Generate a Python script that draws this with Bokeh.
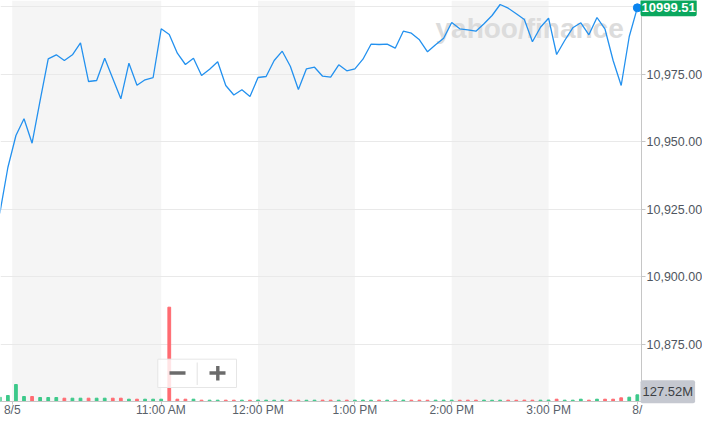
from bokeh.plotting import figure
from bokeh.models import (Range1d, FixedTicker, NumeralTickFormatter, BoxAnnotation,
                          Label, ColumnDataSource)
from bokeh.embed import file_html
from bokeh.resources import INLINE

# ---- data (5-minute intraday points) ----
price = [
    10923.45, 10940.46, 10952.29, 10958.47, 10949.45, 10965.24, 10980.66, 10982.14, 10980.03, 10982.14,
    10986.58, 10972.26, 10972.63, 10980.88, 10973.37, 10965.87, 10979.03, 10970.90, 10972.89, 10973.74,
    10991.75, 10989.64, 10982.73, 10978.55, 10980.88, 10974.48, 10976.81, 10979.55, 10970.78, 10967.27,
    10969.19, 10966.72, 10973.74, 10974.11, 10980.03, 10983.47, 10977.92, 10969.30, 10976.96, 10977.55,
    10974.22, 10973.85, 10978.44, 10976.22, 10976.96, 10980.51, 10986.06, 10985.95, 10986.06, 10984.58,
    10990.87, 10990.13, 10987.68, 10983.25, 10985.84, 10988.28, 10994.08, 10991.75, 10991.38, 10990.87,
    10993.60, 10996.67, 11000.74, 10999.37, 10997.30, 10995.19, 10986.95, 10992.34, 10995.67, 10982.25,
    10987.43, 10992.12, 10993.97, 10989.53, 10995.93, 10991.60, 10980.03, 10970.78, 10988.91, 10999.51,
]
volume_m = [
    82, 114, 323, 95, 95, 76, 76, 76, 63, 63,
    63, 63, 63, 63, 63, 63, 44, 44, 44, 44,
    44, 1795, 44, 44, 44, 25, 25, 25, 25, 25,
    25, 24, 26, 25, 24, 25, 27, 25, 24, 25,
    26, 25, 24, 25, 25, 26, 24, 25, 25, 24,
    26, 25, 25, 24, 25, 26, 25, 24, 25, 25,
    26, 24, 25, 25, 24, 26, 25, 25, 27, 44,
    25, 25, 44, 25, 44, 44, 44, 70, 82, 127.52,
]
x_tick_pos = [1.54, 20, 32, 44, 56, 68, 79]
x_tick_labels = ["8/5", "11:00 AM", "12:00 PM", "1:00 PM", "2:00 PM", "3:00 PM", "8/"]
grid_ticks = [10875, 10900, 10925, 10950, 10975, 11000]
y_label_ticks = [10875, 10900, 10925, 10950, 10975]
shade_start = [1.54, 32, 56]
shade_end = [20, 44, 68]
last_price_text = "10999.51"
last_volume_text = "127.52M"

W, H = 702, 416

# ---- helpers for decoration placement (reference pixel -> data) ----
def kx(px):
    return (px + 0.7) / 8.07

def py(px):
    return 11000 - (px - 6) * 25 / 67.6

VOL_PER_PX = 19.03e6

idx = list(range(len(price)))
colors = ["#3dc98a"]
for i in range(1, len(price)):
    colors.append("#3dc98a" if price[i] >= price[i - 1] else "#ff6b72")

src = ColumnDataSource(dict(x=idx, p=price, v=[m * 1e6 for m in volume_m], c=colors))

p = figure(width=W, height=H,
           x_range=Range1d(kx(0), kx(W)), y_range=Range1d(py(H), py(0)),
           y_axis_location="right", output_backend="svg", toolbar_location=None,
           min_border_left=0, min_border_top=0, min_border_right=0, min_border_bottom=0,
           outline_line_color=None, background_fill_color="white", border_fill_color="white")
p.extra_y_ranges = {"vol": Range1d(-(H - 401) * VOL_PER_PX, 401 * VOL_PER_PX)}

for s, e in zip(shade_start, shade_end):
    p.add_layout(BoxAnnotation(left=s, right=e, top=py(0), bottom=py(401),
                               fill_color="#f5f5f5", fill_alpha=1,
                               line_color=None, level="image"))

p.xgrid.visible = False
yg = p.ygrid[0]
if "cross_bounds" in yg.properties():
    yg.ticker = FixedTicker(ticks=grid_ticks)
    yg.cross_bounds = (kx(0), kx(641))
    yg.grid_line_color = "#e9e9e9"
else:
    yg.visible = False
    p.segment(x0=[kx(0)] * len(grid_ticks), x1=[kx(641)] * len(grid_ticks),
              y0=grid_ticks, y1=grid_ticks, line_color="#e9e9e9", line_width=1)

# watermark
p.add_layout(Label(x=kx(435), y=py(28.3), text="yahoo/finance", text_font="Liberation Sans",
                   text_font_size="28px", text_font_style="bold", text_color="#dcdcdc",
                   text_baseline="alphabetic", level="underlay"))

# volume bars
p.vbar(x="x", top="v", width=0.34, color="c", source=src, y_range_name="vol")

# price line
p.line(x="x", y="p", source=src, line_color="#2391ef", line_width=1.3)
p.scatter([idx[-1]], [price[-1]], size=8, color="#0a84f0")

# zoom control
p.quad(left=[kx(157.3)], right=[kx(236)], top=[py(358.7)], bottom=[py(387)],
       fill_color="white", fill_alpha=0.82, line_color="#e6e6e6", line_width=1)
p.segment(x0=[kx(169), kx(209), kx(217.3)], y0=[py(372.5), py(372.5), py(365.5)],
          x1=[kx(185), kx(225), kx(217.3)], y1=[py(372.5), py(372.5), py(380)],
          line_color="#6b6b6b", line_width=3.4)
p.segment(x0=[kx(196.7)], y0=[py(362)], x1=[kx(196.7)], y1=[py(384.5)],
          line_color="#e2e2e2", line_width=1)

# axes (fixed inside the canvas)
ya = p.yaxis[0]
ya.fixed_location = kx(641)
ya.bounds = (py(401), py(0))
ya.ticker = FixedTicker(ticks=y_label_ticks)
ya.formatter = NumeralTickFormatter(format="0,0.00")
ya.axis_line_color = "#c6c6c6"
ya.major_tick_line_color = "#c6c6c6"
ya.major_tick_out = 4
ya.major_tick_in = 0
ya.minor_tick_line_color = None
ya.major_label_standoff = 1
ya.major_label_text_font = "Liberation Sans"
ya.major_label_text_font_size = "12.5px"
ya.major_label_text_color = "#4f5660"

xa = p.xaxis[0]
xa.fixed_location = py(401)
xa.bounds = (kx(0), kx(641))
xa.ticker = FixedTicker(ticks=x_tick_pos)
xa.major_label_overrides = {t: l for t, l in zip(x_tick_pos, x_tick_labels)}
xa.axis_line_color = "#c6c6c6"
xa.major_tick_line_color = "#c6c6c6"
xa.major_tick_out = 3
xa.major_tick_in = 0
xa.minor_tick_line_color = None
xa.major_label_standoff = -2
xa.major_label_text_font = "Liberation Sans"
xa.major_label_text_font_size = "12px"
xa.major_label_text_color = "#59616a"

# price and volume tags
p.add_layout(Label(x=kx(640), y=price[-1], text=last_price_text, text_font="Liberation Sans",
                   text_font_size="13px", text_font_style="bold", text_color="white",
                   text_baseline="middle", background_fill_color="#0aa75e",
                   padding=(1, 4), border_radius=2))
p.add_layout(Label(x=kx(640), y=py(391.2), text=last_volume_text, text_font="Liberation Sans",
                   text_font_size="13px", text_color="#3c3f44", text_baseline="middle",
                   background_fill_color="#c5c8d0", padding=(2, 4), border_radius=2))

open("out.html", "w").write(file_html(p, INLINE))
